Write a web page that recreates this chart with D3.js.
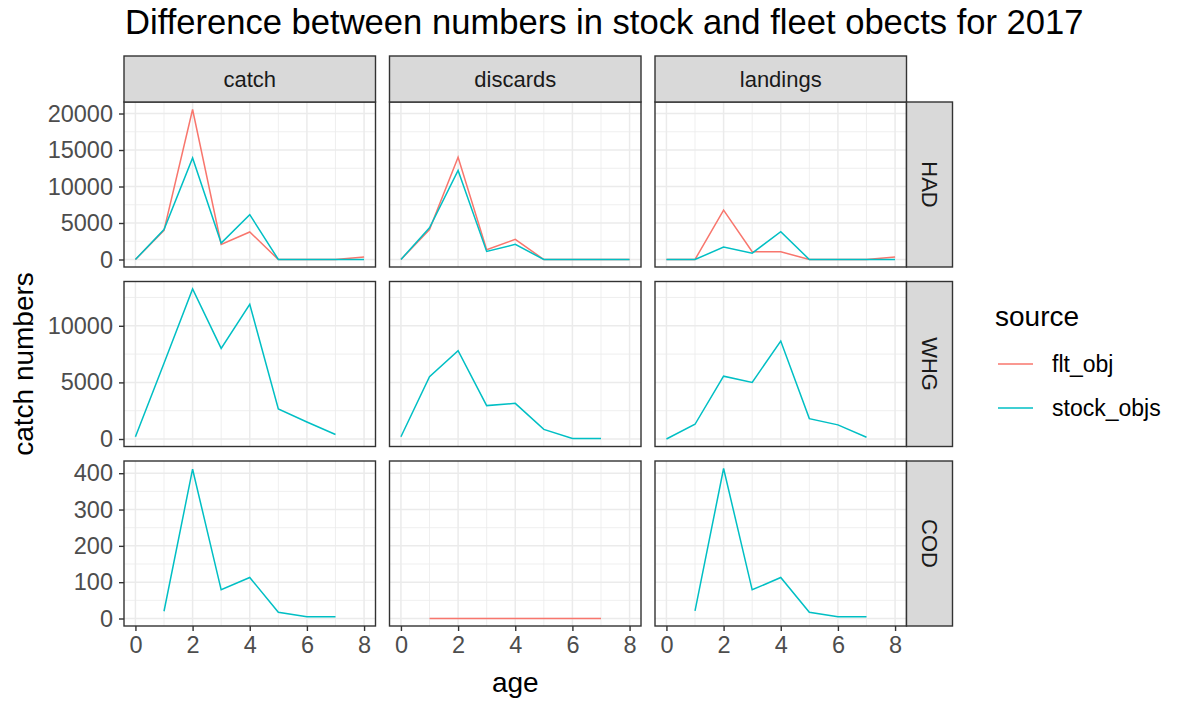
<!DOCTYPE html>
<html>
<head>
<meta charset="utf-8">
<script src="https://cdn.jsdelivr.net/npm/d3@7"></script>
<style>
  body { margin: 0; background: #fff; }
  text { font-family: "Liberation Sans", Arial, sans-serif; }
</style>
</head>
<body>
<div id="chart"></div>
<script>
// --- data ---
const stockNames = ["HAD", "WHG", "COD"];          // facet rows
const catchTypes = ["catch", "discards", "landings"]; // facet columns
const sources = ["flt_obj", "stock_objs"];
const sourceColors = ["#F8766D", "#00BFC4"];

const agesHAD = [0, 1, 2, 3, 4, 5, 6, 7, 8];
const agesWHG = [0, 1, 2, 3, 4, 5, 6, 7];
const agesCOD = [1, 2, 3, 4, 5, 6, 7];

// HAD
const hadCatchFlt = [0, 4000, 20550, 2070, 3770, 0, 0, 0, 330];
const hadCatchStk = [0, 4100, 13900, 2250, 6150, 0, 0, 0, 0];
const hadDiscFlt  = [0, 4100, 14000, 1330, 2760, 0, 0, 0, 0];
const hadDiscStk  = [0, 4350, 12200, 1100, 2070, 0, 0, 0, 0];
const hadLandFlt  = [0, 0, 6760, 1060, 1060, 0, 0, 0, 330];
const hadLandStk  = [0, 0, 1700, 870, 3800, 0, 0, 0, 0];
// WHG
const whgCatchStk = [200, 6700, 13250, 8000, 11900, 2650, 1500, 400];
const whgDiscStk  = [200, 5500, 7800, 2950, 3150, 850, 50, 50];
const whgLandStk  = [0, 1300, 5550, 5000, 8650, 1800, 1250, 150];
// COD
const codCatchStk = [20, 411, 79, 113, 17, 5, 5];
const codDiscFlt  = [0, 0, 0, 0, 0, 0, 0];
const codLandStk  = [21, 413, 79, 113, 17, 5, 5];

// tick labels
const xTicks = [0, 2, 4, 6, 8];
const yTicksHAD = [0, 5000, 10000, 15000, 20000];
const yTicksWHG = [0, 5000, 10000];
const yTicksCOD = [0, 100, 200, 300, 400];

// series list: [stock, type, source, ages, values]
const series = [
  ["HAD", "catch", "flt_obj", agesHAD, hadCatchFlt],
  ["HAD", "catch", "stock_objs", agesHAD, hadCatchStk],
  ["HAD", "discards", "flt_obj", agesHAD, hadDiscFlt],
  ["HAD", "discards", "stock_objs", agesHAD, hadDiscStk],
  ["HAD", "landings", "flt_obj", agesHAD, hadLandFlt],
  ["HAD", "landings", "stock_objs", agesHAD, hadLandStk],
  ["WHG", "catch", "stock_objs", agesWHG, whgCatchStk],
  ["WHG", "discards", "stock_objs", agesWHG, whgDiscStk],
  ["WHG", "landings", "stock_objs", agesWHG, whgLandStk],
  ["COD", "catch", "stock_objs", agesCOD, codCatchStk],
  ["COD", "discards", "flt_obj", agesCOD, codDiscFlt],
  ["COD", "landings", "stock_objs", agesCOD, codLandStk]
];
const yTicksByRow = { HAD: yTicksHAD, WHG: yTicksWHG, COD: yTicksCOD };

// --- layout ---
const W = 1178, H = 704;
const panelLeft = 124, panelW = 251.5, gapX = 14;
const panelTop = 102, panelH = 165, gapY = 14.5;
const stripH = 46, stripW = 46;
const font = "'Liberation Sans', Arial, sans-serif";

const svg = d3.select("#chart").append("svg")
  .attr("width", W).attr("height", H);

// title
svg.append("text")
  .attr("x", 125).attr("y", 34)
  .style("font-size", "34.6px").style("fill", "#000")
  .text("Difference between numbers in stock and fleet obects for 2017");

// x scale shared (ggplot 5% expansion of 0..8)
const x = d3.scaleLinear().domain([-0.4, 8.4]).range([0, panelW]);
const xMinor = [1, 3, 5, 7];

// y scale per row from the row's data
const yScales = {};
stockNames.forEach(s => {
  const vals = series.filter(d => d[0] === s).flatMap(d => d[4]);
  const lo = d3.min(vals), hi = d3.max(vals), pad = (hi - lo) * 0.05;
  yScales[s] = d3.scaleLinear().domain([lo - pad, hi + pad]).range([panelH, 0]);
});

const minorOf = (ticks, dom) => {
  const step = ticks[1] - ticks[0];
  const out = [];
  for (let v = ticks[0] - step / 2; v <= ticks[ticks.length - 1] + step; v += step) {
    if (v >= dom[0] && v <= dom[1]) out.push(v);
  }
  return out;
};

const line = d3.line();

stockNames.forEach((s, ri) => {
  const y = yScales[s];
  const top = panelTop + ri * (panelH + gapY);
  const yt = yTicksByRow[s];
  const ym = minorOf(yt, y.domain());

  catchTypes.forEach((t, ci) => {
    const left = panelLeft + ci * (panelW + gapX);
    const g = svg.append("g").attr("transform", `translate(${left},${top})`);

    // grid
    g.selectAll(".ymin").data(ym).join("line")
      .attr("x1", 0).attr("x2", panelW)
      .attr("y1", d => y(d)).attr("y2", d => y(d))
      .attr("stroke", "#EBEBEB").attr("stroke-width", 0.8);
    g.selectAll(".xmin").data(xMinor).join("line")
      .attr("y1", 0).attr("y2", panelH)
      .attr("x1", d => x(d)).attr("x2", d => x(d))
      .attr("stroke", "#EBEBEB").attr("stroke-width", 0.8);
    g.selectAll(".ymaj").data(yt).join("line")
      .attr("x1", 0).attr("x2", panelW)
      .attr("y1", d => y(d)).attr("y2", d => y(d))
      .attr("stroke", "#EBEBEB").attr("stroke-width", 1.5);
    g.selectAll(".xmaj").data(xTicks).join("line")
      .attr("y1", 0).attr("y2", panelH)
      .attr("x1", d => x(d)).attr("x2", d => x(d))
      .attr("stroke", "#EBEBEB").attr("stroke-width", 1.5);

    // lines, flt_obj first so stock_objs sits on top
    series.filter(d => d[0] === s && d[1] === t).forEach(d => {
      const pts = d[3].map((a, i) => [x(a), y(d[4][i])]);
      g.append("path")
        .attr("d", line(pts))
        .attr("fill", "none")
        .attr("stroke", sourceColors[sources.indexOf(d[2])])
        .attr("stroke-width", 1.5);
    });

    // border
    g.append("rect")
      .attr("width", panelW).attr("height", panelH)
      .attr("fill", "none").attr("stroke", "#333333").attr("stroke-width", 1.4);

    // column strip
    if (ri === 0) {
      svg.append("rect")
        .attr("x", left).attr("y", panelTop - stripH)
        .attr("width", panelW).attr("height", stripH)
        .attr("fill", "#D9D9D9").attr("stroke", "#333333").attr("stroke-width", 1.4);
      svg.append("text")
        .attr("x", left + panelW / 2).attr("y", panelTop - stripH / 2)
        .attr("text-anchor", "middle").attr("dominant-baseline", "central")
        .style("font-size", "22px").style("fill", "#1A1A1A")
        .text(t);
    }

    // y axis on first column
    if (ci === 0) {
      const ax = g.append("g")
        .call(d3.axisLeft(y).tickValues(yt).tickFormat(d3.format("d")).tickSize(5).tickPadding(6));
      ax.select(".domain").remove();
      ax.selectAll(".tick line").attr("stroke", "#333333").attr("stroke-width", 1.4);
      ax.selectAll(".tick text").style("font-size", "23.5px").style("fill", "#4D4D4D")
        .style("font-family", font);
    }

    // x axis on bottom row
    if (ri === stockNames.length - 1) {
      const ax = g.append("g").attr("transform", `translate(0,${panelH})`)
        .call(d3.axisBottom(x).tickValues(xTicks).tickFormat(d3.format("d")).tickSize(5).tickPadding(5));
      ax.select(".domain").remove();
      ax.selectAll(".tick line").attr("stroke", "#333333").attr("stroke-width", 1.4);
      ax.selectAll(".tick text").style("font-size", "23.5px").style("fill", "#4D4D4D")
        .style("font-family", font);
    }
  });

  // row strip on the right
  const sx = panelLeft + 3 * panelW + 2 * gapX;
  svg.append("rect")
    .attr("x", sx).attr("y", top)
    .attr("width", stripW).attr("height", panelH)
    .attr("fill", "#D9D9D9").attr("stroke", "#333333").attr("stroke-width", 1.4);
  svg.append("text")
    .attr("transform", `translate(${sx + stripW / 2},${top + panelH / 2}) rotate(90)`)
    .attr("text-anchor", "middle").attr("dominant-baseline", "central")
    .style("font-size", "22px").style("fill", "#1A1A1A")
    .text(s);
});

// axis titles
svg.append("text")
  .attr("x", panelLeft + (3 * panelW + 2 * gapX) / 2).attr("y", 692)
  .attr("text-anchor", "middle")
  .style("font-size", "28px").style("fill", "#000")
  .text("age");
svg.append("text")
  .attr("transform", `translate(33,${panelTop + (3 * panelH + 2 * gapY) / 2}) rotate(-90)`)
  .attr("text-anchor", "middle")
  .style("font-size", "28px").style("fill", "#000")
  .text("catch numbers");

// legend
const legend = svg.append("g");
legend.append("text")
  .attr("x", 995).attr("y", 326)
  .style("font-size", "28px").style("fill", "#000")
  .text("source");
sources.forEach((src, i) => {
  const cy = 364 + i * 44;
  legend.append("line")
    .attr("x1", 998).attr("x2", 1033).attr("y1", cy).attr("y2", cy)
    .attr("stroke", sourceColors[i]).attr("stroke-width", 1.5);
  legend.append("text")
    .attr("x", 1052).attr("y", cy)
    .attr("dominant-baseline", "central")
    .style("font-size", "23px").style("fill", "#000")
    .text(src);
});
</script>
</body>
</html>
